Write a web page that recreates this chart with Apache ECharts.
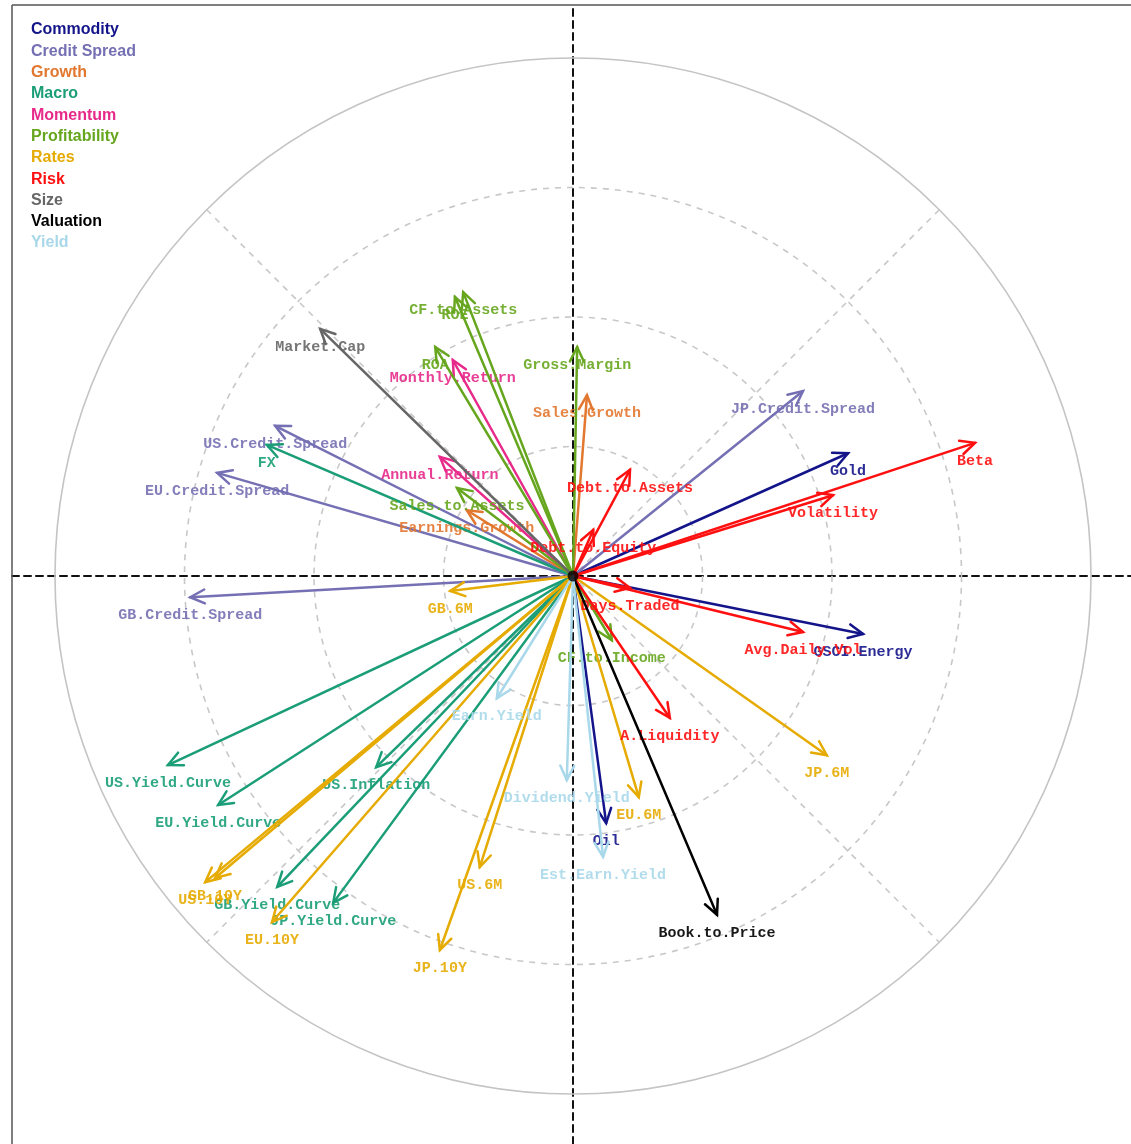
<!DOCTYPE html>
<html>
<head>
<meta charset="utf-8">
<title>Factor correlation circle</title>
<script src="https://cdn.jsdelivr.net/npm/echarts@6/dist/echarts.min.js"></script>
<style>
  html, body { margin: 0; padding: 0; background: #ffffff; }
  #chart { width: 1131px; height: 1144px; }
</style>
</head>
<body>
<div id="chart"></div>
<script>
// Factor loadings on the first two components: [label, x, y]
const commodity = [
  ['Gold', 0.531, 0.237],
  ['GSCI.Energy', 0.560, -0.112],
  ['Oil', 0.064, -0.477]
];
const creditSpread = [
  ['JP.Credit.Spread', 0.444, 0.357],
  ['US.Credit.Spread', -0.575, 0.290],
  ['EU.Credit.Spread', -0.687, 0.199],
  ['GB.Credit.Spread', -0.739, -0.041]
];
const growth = [
  ['Sales.Growth', 0.027, 0.349],
  ['Earnings.Growth', -0.205, 0.127]
];
const macro = [
  ['FX', -0.591, 0.253],
  ['US.Yield.Curve', -0.782, -0.365],
  ['EU.Yield.Curve', -0.685, -0.442],
  ['US.Inflation', -0.380, -0.369],
  ['GB.Yield.Curve', -0.571, -0.600],
  ['JP.Yield.Curve', -0.463, -0.631]
];
const momentum = [
  ['Monthly.Return', -0.232, 0.417],
  ['Annual.Return', -0.257, 0.230]
];
const profitability = [
  ['CF.to.Assets', -0.212, 0.548],
  ['ROE', -0.228, 0.539],
  ['ROA', -0.266, 0.442],
  ['Gross.Margin', 0.008, 0.442],
  ['Sales.to.Assets', -0.224, 0.170],
  ['CF.to.Income', 0.075, -0.124]
];
const rates = [
  ['GB.6M', -0.237, -0.029],
  ['JP.6M', 0.490, -0.346],
  ['EU.6M', 0.127, -0.427],
  ['US.6M', -0.180, -0.562],
  ['JP.10Y', -0.257, -0.722],
  ['US.10Y', -0.710, -0.591],
  ['GB.10Y', -0.691, -0.583],
  ['EU.10Y', -0.581, -0.668]
];
const risk = [
  ['Beta', 0.776, 0.257],
  ['Volatility', 0.502, 0.156],
  ['Avg.Daily.Vol', 0.444, -0.108],
  ['Days.Traded', 0.110, -0.023],
  ['A.Liquidity', 0.187, -0.274],
  ['Debt.to.Assets', 0.110, 0.205],
  ['Debt.to.Equity', 0.039, 0.089]
];
const size = [
  ['Market.Cap', -0.488, 0.477]
];
const valuation = [
  ['Book.to.Price', 0.278, -0.654]
];
const yieldFactors = [
  ['Earn.Yield', -0.147, -0.236],
  ['Dividend.Yield', -0.012, -0.394],
  ['Est.Earn.Yield', 0.058, -0.542]
];

// Reference rings (fraction of unit circle) and diagonal guide angles
const ringRadii = [0.25, 0.5, 0.75, 1.0];
const diagonalAngles = [45, 135];

const groups = [
  { name: 'Commodity', color: '#14148a', rows: commodity },
  { name: 'Credit Spread', color: '#7570b3', rows: creditSpread },
  { name: 'Growth', color: '#e2772f', rows: growth },
  { name: 'Macro', color: '#1b9e77', rows: macro },
  { name: 'Momentum', color: '#e7298a', rows: momentum },
  { name: 'Profitability', color: '#66a61e', rows: profitability },
  { name: 'Rates', color: '#e6ab02', rows: rates },
  { name: 'Risk', color: '#ff1010', rows: risk },
  { name: 'Size', color: '#666666', rows: size },
  { name: 'Valuation', color: '#000000', rows: valuation },
  { name: 'Yield', color: '#a8d8ea', rows: yieldFactors }
];

const LABEL_FONT = 'bold 15px "Liberation Mono", "DejaVu Sans Mono", monospace';

function arrowSeries(group) {
  return {
    type: 'custom',
    name: group.name,
    color: group.color,
    data: group.rows.map(r => [r[1], r[2]]),
    z: 5,
    renderItem: function (params, api) {
      const o = api.coord([0, 0]);
      const p = api.coord([api.value(0), api.value(1)]);
      const ang = Math.atan2(p[1] - o[1], p[0] - o[0]);
      const L = 16, a = Math.PI / 7;
      const h1 = [p[0] - L * Math.cos(ang - a), p[1] - L * Math.sin(ang - a)];
      const h2 = [p[0] - L * Math.cos(ang + a), p[1] - L * Math.sin(ang + a)];
      const color = group.color;
      return {
        type: 'group',
        children: [
          { type: 'line', shape: { x1: o[0], y1: o[1], x2: p[0], y2: p[1] },
            style: { stroke: color, lineWidth: 2.5, lineCap: 'round' } },
          { type: 'polyline', shape: { points: [h1, p, h2] },
            style: { stroke: color, lineWidth: 2.5, fill: null, lineJoin: 'miter', lineCap: 'round' } },
          { type: 'text', x: p[0], y: p[1] + 18,
            style: { text: group.rows[params.dataIndex][0], fill: color, font: LABEL_FONT,
                     align: 'center', verticalAlign: 'middle', opacity: 0.9 } }
        ]
      };
    }
  };
}

const chart = echarts.init(document.getElementById('chart'), null, { renderer: 'canvas' });

// Unit circle spans 518 px; the plotting area runs to the page edges on the right and bottom
const option = {
  animation: false,
  backgroundColor: '#ffffff',
  grid: { left: 12, top: 5, right: 0, bottom: 0, show: false },
  graphic: [
    { type: 'line', z: 20, shape: { x1: 12, y1: 5, x2: 1131, y2: 5 }, style: { stroke: '#555555', lineWidth: 1.5 } },
    { type: 'line', z: 20, shape: { x1: 12, y1: 5, x2: 12, y2: 1144 }, style: { stroke: '#555555', lineWidth: 1.5 } }
  ],
  xAxis: {
    type: 'value', min: -1.083, max: 1.0772,
    axisLine: { show: true, onZero: true, lineStyle: { color: '#111111', width: 2, type: [7, 5] } },
    axisTick: { show: false }, axisLabel: { show: false }, splitLine: { show: false }
  },
  yAxis: {
    type: 'value', min: -1.0965, max: 1.1023,
    axisLine: { show: true, onZero: true, lineStyle: { color: '#111111', width: 2, type: [7, 5] } },
    axisTick: { show: false }, axisLabel: { show: false }, splitLine: { show: false }
  },
  legend: {
    orient: 'vertical', left: 21, top: 17,
    icon: 'none', itemWidth: 0, itemHeight: 16, itemGap: 5.3,
    selectedMode: true,
    textStyle: { fontFamily: '"Liberation Sans", Arial, sans-serif', fontWeight: 'bold', fontSize: 16, lineHeight: 16 },
    data: groups.map(g => ({ name: g.name, textStyle: { color: g.color } }))
  },
  series: [
    {
      type: 'custom', name: 'rings', silent: true, z: 1,
      data: ringRadii.map(r => [r]),
      renderItem: function (params, api) {
        const r = api.value(0);
        const c = api.coord([0, 0]);
        const pr = api.size([r, 0])[0];
        const outer = r >= 1;
        return {
          type: 'circle', shape: { cx: c[0], cy: c[1], r: pr },
          style: { fill: null, stroke: outer ? '#c4c4c4' : '#c8c8c8', lineWidth: 1.6,
                   lineDash: outer ? null : [6, 6] }
        };
      }
    },
    {
      type: 'custom', name: 'diagonals', silent: true, z: 1,
      data: diagonalAngles.map(a => [a]),
      renderItem: function (params, api) {
        const t = api.value(0) * Math.PI / 180;
        const p1 = api.coord([Math.cos(t), Math.sin(t)]);
        const p2 = api.coord([-Math.cos(t), -Math.sin(t)]);
        return {
          type: 'line', shape: { x1: p1[0], y1: p1[1], x2: p2[0], y2: p2[1] },
          style: { stroke: '#c8c8c8', lineWidth: 1.6, lineDash: [6, 6] }
        };
      }
    },
    ...groups.map(arrowSeries),
    {
      type: 'scatter', name: 'origin', silent: true, z: 10,
      data: [[0, 0]], symbolSize: 11, itemStyle: { color: '#000000' }
    }
  ]
};

chart.setOption(option);
</script>
</body>
</html>
